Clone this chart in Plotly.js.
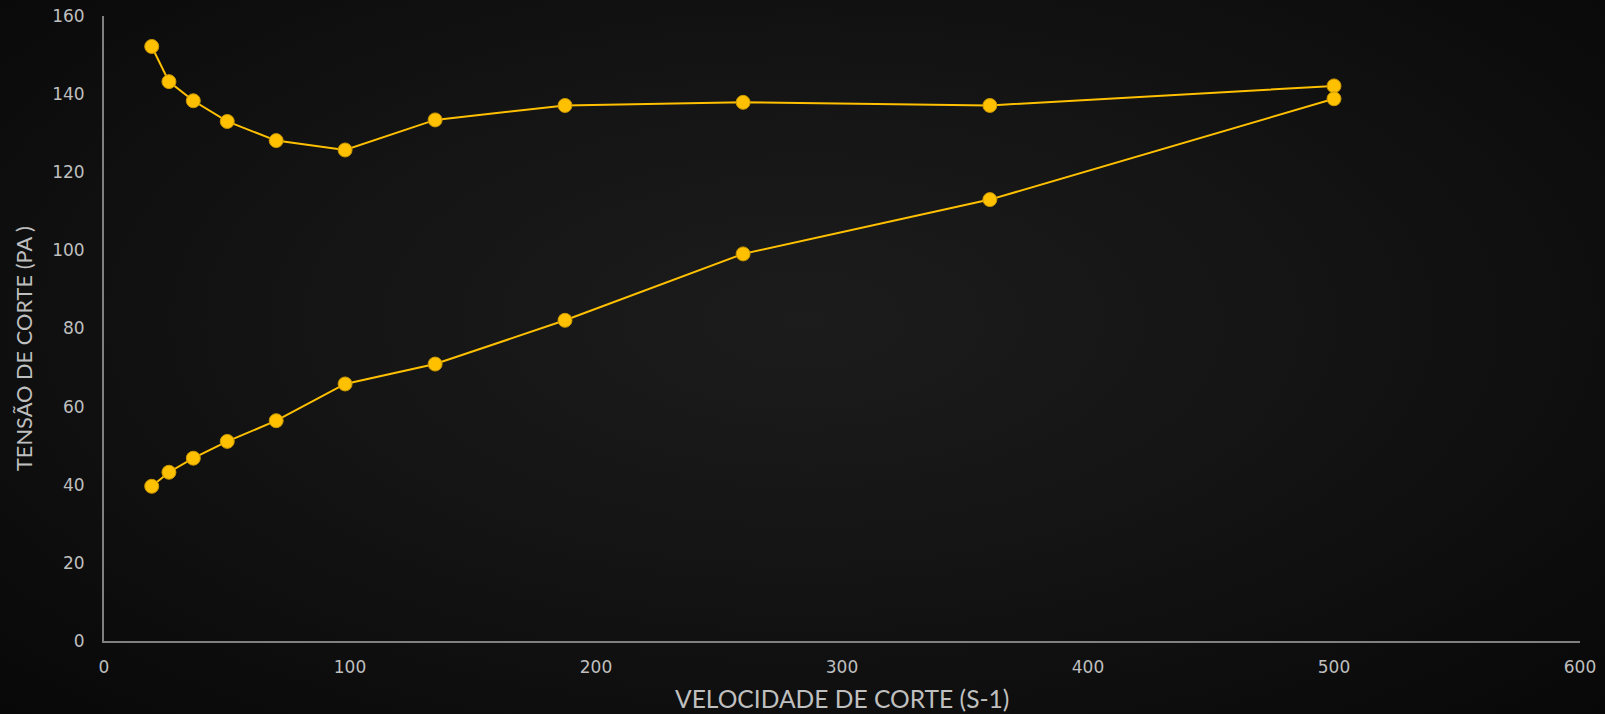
<!DOCTYPE html>
<html>
<head>
<meta charset="utf-8">
<script src="https://cdn.plot.ly/plotly-3.0.1.min.js"></script>
<style>
  html, body { margin: 0; padding: 0; }
  body {
    width: 1605px; height: 714px; overflow: hidden;
    background: radial-gradient(ellipse at 50% 45%, #1c1c1c 0%, #141414 45%, #080808 100%);
  }
  #chart { width: 1605px; height: 714px; }
</style>
</head>
<body>
<div id="chart"></div>
<script>
// Shear rate (s-1) for the ascending and descending sweeps
const shearRate = [19.4, 26.4, 36.3, 50.1, 70.0, 98.0, 134.6, 187.4, 259.8, 360.1, 500.0];
// Shear stress (Pa), upper curve
const stressUpper = [152.2, 143.2, 138.3, 133.0, 128.1, 125.7, 133.4, 137.1, 137.9, 137.1, 142.1];
// Shear stress (Pa), lower curve
const stressLower = [39.6, 43.2, 46.8, 51.1, 56.4, 65.8, 70.9, 82.1, 99.1, 113.0, 138.8];

const xTicks = [0, 100, 200, 300, 400, 500, 600];
const yTicks = [0, 20, 40, 60, 80, 100, 120, 140, 160];

const gold = '#FFC000';
const tickFont = { family: 'DejaVu Sans, Open Sans, sans-serif', size: 17, color: '#bfbfbf' };
const titleFamily = 'Lato, Inter, sans-serif';

// plot area in pixels
const L = 104, R = 1580, T = 16, B = 641;

function series(y) {
  return {
    x: shearRate, y: y, type: 'scatter', mode: 'lines+markers',
    line: { color: gold, width: 2 },
    marker: { color: gold, size: 14, line: { color: '#c99700', width: 1 } },
    hoverinfo: 'x+y', showlegend: false
  };
}

const data = [series(stressUpper), series(stressLower)];

const layout = {
  width: 1605, height: 714,
  paper_bgcolor: 'rgba(0,0,0,0)', plot_bgcolor: 'rgba(0,0,0,0)',
  margin: { l: L, r: 1605 - R, t: T, b: 714 - B },
  xaxis: {
    range: [0, 600], tickvals: xTicks, ticktext: xTicks.map(String),
    showgrid: false, zeroline: false, showline: true, linecolor: '#808080', linewidth: 2,
    ticks: '', tickfont: tickFont, ticklabelstandoff: 10
  },
  yaxis: {
    range: [0, 160], tickvals: yTicks, ticktext: yTicks.map(String),
    showgrid: false, zeroline: false, showline: true, linecolor: '#808080', linewidth: 2,
    ticks: '', tickfont: tickFont, ticklabelstandoff: 14
  },
  annotations: [
    { text: 'VELOCIDADE DE CORTE (S-1)', xref: 'paper', yref: 'paper',
      x: (841.5 - L) / (R - L), y: -(698 - B) / (B - T),
      xanchor: 'center', yanchor: 'middle', showarrow: false,
      font: { family: titleFamily, size: 24.6, color: '#bfbfbf' } },
    { text: 'TENSÃO DE CORTE (PA )', xref: 'paper', yref: 'paper',
      x: (24 - L) / (R - L), y: (B - 349) / (B - T),
      xanchor: 'center', yanchor: 'middle', textangle: -90, showarrow: false,
      font: { family: titleFamily, size: 21.8, color: '#bfbfbf' } }
  ]
};

Plotly.newPlot('chart', data, layout, { displayModeBar: false, staticPlot: true });
</script>
</body>
</html>
